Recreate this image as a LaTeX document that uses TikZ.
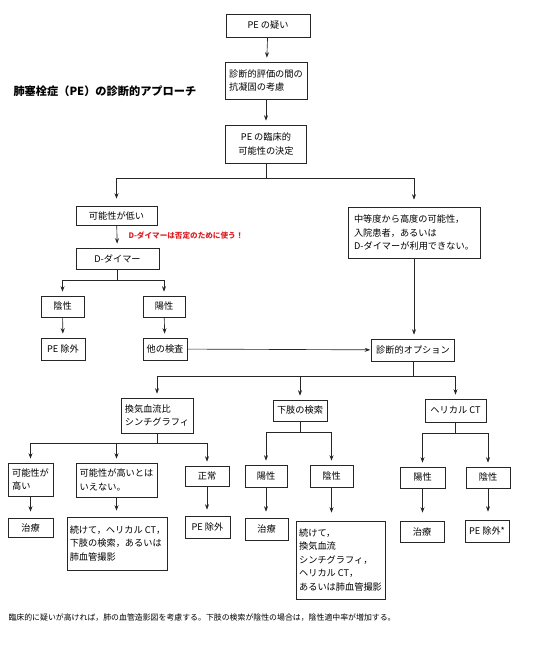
\documentclass[tikz,border=0pt]{standalone}
\usepackage{fontspec}
\setmainfont{Noto Sans CJK JP}
\usetikzlibrary{arrows.meta}
\definecolor{notered}{RGB}{222,32,36}
\begin{document}
\begin{tikzpicture}[x=1pt,y=-1pt,
    box/.style={draw=black!85, line width=0.65pt, inner sep=2pt, align=left, font=\fontsize{9.2}{13.5}\selectfont},
    ln/.style={draw=black!85, line width=0.65pt},
    arr/.style={draw=black!85, line width=0.65pt, -{Stealth[length=5.5pt,width=4pt]}, shorten >=4pt}
]
\useasboundingbox (0,0) rectangle (542,646);
\node[anchor=west, font=\bfseries\fontsize{11.2}{13}\selectfont] (title) at (10,91) {肺塞栓症（PE）の診断的アプローチ};
\node[box, minimum width=84pt, minimum height=23pt] (susp) at (268,25.5) {PE の疑い};
\node[box, minimum width=82pt, minimum height=37pt] (anti) at (266,80.5) {診断的評価の間の\\抗凝固の考慮};
\node[box, minimum width=81pt, minimum height=38pt, align=center] (prob) at (266,144) {PE の臨床的\\可能性の決定};
\node[box, minimum width=81pt, minimum height=19pt] (low) at (116.5,215.5) {可能性が低い};
\node[anchor=west, text=notered, font=\bfseries\fontsize{7.6}{9}\selectfont] (dnote) at (125,236) {D-ダイマーは否定のために使う！};
\node[box, minimum width=83pt, minimum height=21pt] (dd) at (117.5,258.5) {D-ダイマー};
\node[box, minimum width=43pt, minimum height=21pt] (neg1) at (62.5,306.5) {陰性};
\node[box, minimum width=42pt, minimum height=21pt] (pos1) at (164,306.5) {陽性};
\node[box, minimum width=44pt, minimum height=22pt] (ex1) at (63,349) {PE 除外};
\node[box, minimum width=44pt, minimum height=22pt] (oth) at (165,349) {他の検査};
\node[box, minimum width=132pt, minimum height=51pt] (mod) at (414,232.5) {中等度から高度の可能性，\\入院患者，あるいは\\D-ダイマーが利用できない。};
\node[box, minimum width=83pt, minimum height=22pt] (opt) at (413,350) {診断的オプション};
\node[box, minimum width=72pt, minimum height=35pt] (vq) at (157,415.5) {換気血流比\\シンチグラフィ};
\node[box, minimum width=54pt, minimum height=21pt] (leg) at (300,410.5) {下肢の検索};
\node[box, minimum width=61pt, minimum height=23pt] (ct) at (455.5,410.5) {ヘリカル CT};
\node[box, minimum width=45pt, minimum height=33pt] (vqh) at (30.5,479.5) {可能性が\\高い};
\node[box, minimum width=81pt, minimum height=34pt] (vqn) at (116.5,480) {可能性が高いとは\\いえない。};
\node[box, minimum width=44pt, minimum height=20pt] (vqz) at (207,476) {正常};
\node[box, minimum width=42pt, minimum height=22pt] (legp) at (266,476) {陽性};
\node[box, minimum width=43pt, minimum height=22pt] (legn) at (331.5,476) {陰性};
\node[box, minimum width=45pt, minimum height=21pt] (ctp) at (422.5,477.5) {陽性};
\node[box, minimum width=44pt, minimum height=21pt] (ctn) at (488,477.5) {陰性};
\node[box, minimum width=45pt, minimum height=19pt] (tr1) at (30.5,527.5) {治療};
\node[box, minimum width=99pt, minimum height=53pt] (cont1) at (117.5,543.5) {続けて，ヘリカル CT，\\下肢の検索，あるいは\\肺血管撮影};
\node[box, minimum width=45pt, minimum height=22pt] (ex2) at (207.5,527) {PE 除外};
\node[box, minimum width=43pt, minimum height=22pt] (tr2) at (266.5,529) {治療};
\node[box, minimum width=89pt, minimum height=78pt] (cont2) at (340.5,560) {続けて，\\換気血流\\シンチグラフィ，\\ヘリカル CT，\\あるいは肺血管撮影};
\node[box, minimum width=44pt, minimum height=21pt] (tr3) at (422,531.5) {治療};
\node[box, minimum width=44pt, minimum height=22pt] (ex3) at (487,531) {PE 除外*};
\node[anchor=west, font=\fontsize{7.9}{10}\selectfont] (foot) at (5,618) {臨床的に疑いが高ければ，肺の血管造影図を考慮する。下肢の検索が陰性の場合は，陰性適中率が増加する。};
\draw[arr] (susp) -- (anti);
\draw[arr] (anti) -- (prob);
\draw[ln] (prob.south) -- ++(0,15) coordinate (j1);
\draw[arr, shorten >=7pt] (j1) -| (low);
\draw[arr, shorten >=7pt] (j1) -| (mod);
\draw[arr] (low) -- (dd);
\draw[ln] (dd.south) -- ++(0,11) coordinate (j2);
\draw[arr] (j2) -| (neg1);
\draw[arr] (j2) -| (pos1);
\draw[arr] (neg1) -- (ex1);
\draw[arr] (pos1) -- (oth);
\draw[arr, shorten >=1pt] (oth) -- (opt);
\draw[arr] (mod.south) -- (mod.south |- opt.north);
\draw[ln] (opt.south) -- ++(0,15) coordinate (j3);
\draw[arr] (j3) -| (vq);
\draw[arr] (j3) -| (leg);
\draw[arr] (j3) -| (ct);
\draw[ln] (vq.south) -- ++(0,10) coordinate (j4);
\draw[arr] (j4) -| (vqh);
\draw[arr] (j4) -| (vqn);
\draw[arr] (j4) -| (vqz);
\draw[ln] (leg.south) -- ++(0,11) coordinate (j5);
\draw[arr] (j5) -| (legp);
\draw[arr] (j5) -| (legn);
\draw[ln] (ct.south) -- ++(0,11) coordinate (j6);
\draw[arr] (j6) -| (ctp);
\draw[arr] (j6) -| (ctn);
\draw[arr, shorten >=6pt] (vqh.south) -- (vqh.south |- tr1.north);
\draw[arr, shorten >=6pt] (vqn.south) -- (vqn.south |- cont1.north);
\draw[arr, shorten >=6pt] (vqz.south) -- (vqz.south |- ex2.north);
\draw[arr, shorten >=6pt] (legp.south) -- (legp.south |- tr2.north);
\draw[arr, shorten >=8pt] (legn.south) -- (legn.south |- cont2.north);
\draw[arr, shorten >=8pt] (ctp.south) -- (ctp.south |- tr3.north);
\draw[arr, shorten >=8pt] (ctn.south) -- (ctn.south |- ex3.north);
\end{tikzpicture}
\end{document}
